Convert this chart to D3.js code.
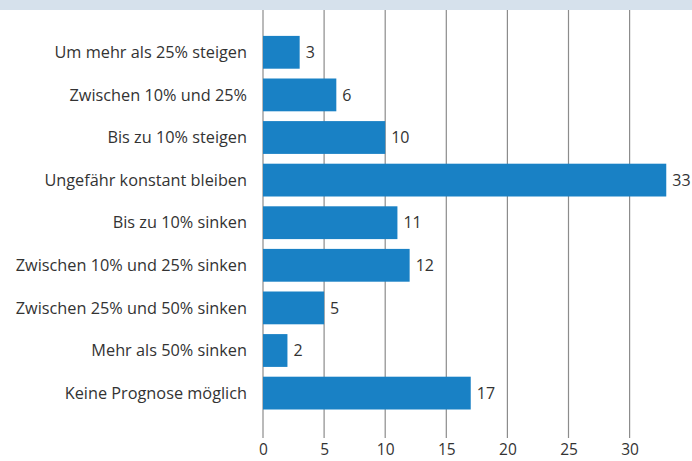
<!DOCTYPE html>
<html><head><meta charset="utf-8">
<script src="https://cdn.jsdelivr.net/npm/d3@7"></script>
<style>body{margin:0;background:#fff}svg{display:block}</style>
</head><body>
<script>
const categories = ["Um mehr als 25% steigen","Zwischen 10% und 25%","Bis zu 10% steigen","Ungefähr konstant bleiben","Bis zu 10% sinken","Zwischen 10% und 25% sinken","Zwischen 25% und 50% sinken","Mehr als 50% sinken","Keine Prognose möglich"];
const values = [3,6,10,33,11,12,5,2,17];
const ticks = [0,5,10,15,20,25,30];

const W=692,H=461;
const svg=d3.select("body").append("svg").attr("width",W).attr("height",H);
const font="'Open Sans', sans-serif";
svg.append("rect").attr("x",0).attr("y",0).attr("width",W).attr("height",10).attr("fill","#d6e1ec");

const x=d3.scaleLinear().domain([0,35]).range([263,263+35*12.22]);
const y=d3.scaleBand().domain(categories).range([31,414.4]).paddingInner(0.23).paddingOuter(0.115);

const g=svg.append("g");
g.selectAll("line.grid").data(ticks).join("line").attr("class","grid")
 .attr("x1",d=>x(d)).attr("x2",d=>x(d)).attr("y1",10).attr("y2",438)
 .attr("stroke","#8c8c8c").attr("stroke-width",1.2);

g.selectAll("rect.bar").data(values).join("rect").attr("class","bar")
 .attr("x",x(0)).attr("y",(d,i)=>y(categories[i])).attr("width",d=>x(d)-x(0)).attr("height",y.bandwidth())
 .attr("fill","#1981c5");

g.selectAll("text.val").data(values).join("text").attr("class","val")
 .attr("x",d=>x(d)+6).attr("y",(d,i)=>y(categories[i])+y.bandwidth()/2).attr("dy","0.35em")
 .attr("font-family",font).attr("font-size",16).attr("fill","#333").text(d=>d);

g.selectAll("text.cat").data(categories).join("text").attr("class","cat")
 .attr("x",247).attr("y",d=>y(d)+y.bandwidth()/2).attr("dy","0.35em").attr("text-anchor","end")
 .attr("font-family",font).attr("font-size",16.3).attr("fill","#333").text(d=>d);

const ax=svg.append("g").attr("transform","translate(0,438)")
 .call(d3.axisBottom(x).tickValues(ticks).tickSize(0).tickPadding(0));
ax.select(".domain").remove();
ax.selectAll("text").attr("dy",null).attr("y",17).attr("font-family",font).attr("font-size",15.5).attr("fill","#333");
</script>
</body></html>
